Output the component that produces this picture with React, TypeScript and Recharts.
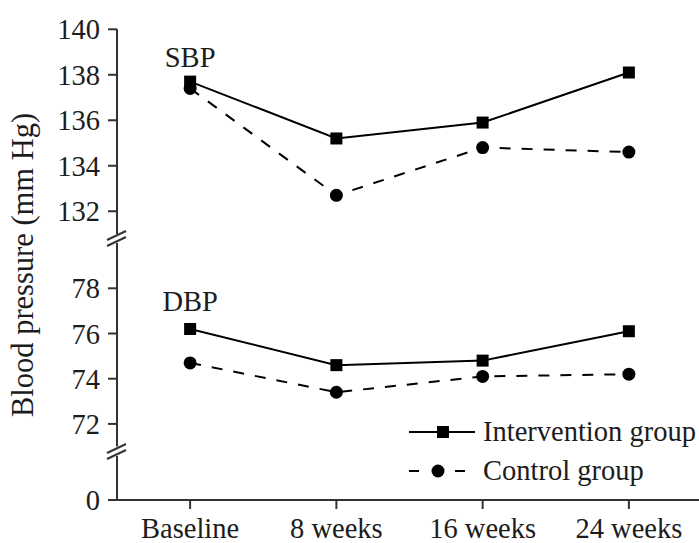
import { LineChart, Line, XAxis, YAxis, ReferenceDot } from "recharts";

const categories = ["Baseline", "8 weeks", "16 weeks", "24 weeks"];
const seriesNames = ["Intervention group", "Control group"];

const sbpIntervention = [137.7, 135.2, 135.9, 138.1];
const sbpControl = [137.4, 132.7, 134.8, 134.6];
const dbpIntervention = [76.2, 74.6, 74.8, 76.1];
const dbpControl = [74.7, 73.4, 74.1, 74.2];

const sbpTicks = [132, 134, 136, 138, 140];
const dbpTicks = [72, 74, 76, 78];
const zeroTicks = [0];

const sbpData = categories.map((period, i) => ({
  period,
  intervention: sbpIntervention[i],
  control: sbpControl[i],
}));
const dbpData = categories.map((period, i) => ({
  period,
  intervention: dbpIntervention[i],
  control: dbpControl[i],
}));
const axisData = categories.map((period) => ({ period }));

const W = 702;
const H = 543;
const FONT = "Liberation Serif, Times New Roman, serif";
const INK = "#1c1c1c";
const AXIS = "#333";

const textStyle = { fontFamily: FONT };
const tickStyle = { fontSize: 28.5, fontFamily: FONT, fill: INK, style: textStyle };

const Square = (props: any) => {
  const { cx, cy, index } = props;
  if (cx == null || cy == null) return <g key={`sq-${index}`} />;
  return <rect key={`sq-${index}`} x={cx - 6} y={cy - 6} width={12} height={12} fill="#000" />;
};

const Dot = (props: any) => {
  const { cx, cy, index } = props;
  if (cx == null || cy == null) return <g key={`ci-${index}`} />;
  return <circle key={`ci-${index}`} cx={cx} cy={cy} r={6.5} fill="#000" />;
};

interface PanelProps {
  data: Record<string, any>[];
  domain: [number, number];
  ticks: number[];
  top: number;
  bottom: number;
  showX?: boolean;
  tag?: string;
  tagY?: number;
  lines?: boolean;
}

function Panel({ data, domain, ticks, top, bottom, showX, tag, tagY, lines = true }: PanelProps) {
  return (
    <div style={{ position: "absolute", left: 0, top: 0 }}>
      <LineChart
        width={W}
        height={H}
        data={data}
        margin={{ top, right: 0, bottom, left: 0 }}
        style={textStyle}
      >
        <XAxis
          dataKey="period"
          scale="band"
          hide={!showX}
          height={43}
          interval={0}
          tickSize={9}
          tickMargin={9}
          tick={tickStyle}
          stroke={AXIS}
          strokeWidth={2}
        />
        <YAxis
          type="number"
          width={117}
          domain={domain}
          ticks={ticks}
          allowDataOverflow
          tickSize={9}
          tickMargin={8}
          tick={tickStyle}
          stroke={AXIS}
          strokeWidth={2}
        />
        {lines && (
          <Line
            dataKey="intervention"
            name={seriesNames[0]}
            type="linear"
            stroke="#000"
            strokeWidth={2}
            dot={Square}
            isAnimationActive={false}
          />
        )}
        {lines && (
          <Line
            dataKey="control"
            name={seriesNames[1]}
            type="linear"
            stroke="#000"
            strokeWidth={2}
            strokeDasharray="11 11"
            dot={Dot}
            isAnimationActive={false}
          />
        )}
        {tag && tagY != null && (
          <ReferenceDot
            x={categories[0]}
            y={tagY}
            r={0}
            fill="none"
            stroke="none"
            label={{ value: tag, position: "center", fontSize: 28.5, fontFamily: FONT, fill: INK }}
          />
        )}
      </LineChart>
    </div>
  );
}

function BreakMark({ c }: { c: number }) {
  return (
    <g stroke={AXIS} strokeWidth={2}>
      <line x1={107} y1={c + 1.5} x2={126} y2={c - 7.5} />
      <line x1={107} y1={c + 7.5} x2={126} y2={c - 1.5} />
    </g>
  );
}

export default function App() {
  return (
    <div
      style={{
        position: "absolute",
        left: 0,
        top: 0,
        width: 699,
        height: 543,
        overflow: "hidden",
        background: "#fff",
        fontFamily: FONT,
      }}
    >
      <Panel data={sbpData} domain={[131, 140]} ticks={sbpTicks} top={29.3} bottom={309} tag="SBP" tagY={138.8} />
      <Panel data={dbpData} domain={[71, 80]} ticks={dbpTicks} top={243.1} bottom={96.5} tag="DBP" tagY={77.45} />
      <Panel data={axisData} domain={[0, 2]} ticks={zeroTicks} top={456} bottom={0} showX lines={false} />
      <svg
        width={699}
        height={543}
        style={{ position: "absolute", left: 0, top: 0, pointerEvents: "none", fontFamily: FONT }}
      >
        <text
          transform="translate(33,265) rotate(-90)"
          textAnchor="middle"
          fontSize={30.5}
          style={textStyle}
          fill={INK}
        >
          Blood pressure (mm Hg)
        </text>
        <BreakMark c={238.5} />
        <BreakMark c={451.5} />
        <g>
          <line x1={409} y1={432} x2={475} y2={432} stroke="#000" strokeWidth={2} />
          <rect x={437} y={426} width={12} height={12} fill="#000" />
          <text x={483} y={441} fontSize={28.5} style={textStyle} fill={INK}>
            {seriesNames[0]}
          </text>
          <line x1={409} y1={471} x2={465} y2={471} stroke="#000" strokeWidth={2} strokeDasharray="10 36" />
          <circle cx={438} cy={471} r={6.5} fill="#000" />
          <text x={483} y={480} fontSize={28.5} style={textStyle} fill={INK}>
            {seriesNames[1]}
          </text>
        </g>
      </svg>
    </div>
  );
}
